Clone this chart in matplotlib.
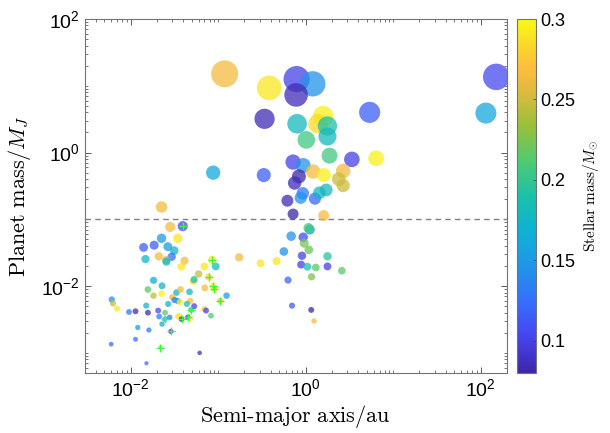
import numpy as np
import matplotlib
matplotlib.use('Agg')
import matplotlib.pyplot as plt
from matplotlib.colors import LinearSegmentedColormap
from matplotlib.ticker import LogLocator, NullFormatter

# semi-major axis (au), planet mass (M_J), stellar mass (M_sun)
semi_major = [0.119, 0.384, 0.79, 1.21, 0.78, 151, 115, 5.4, 0.34, 0.80,
              1.59, 1.39, 1.78, 1.78, 1.02, 1.88, 3.38, 6.4, 0.72, 0.94,
              1.22, 1.62, 2.69, 2.4, 2.69, 0.84, 0.75, 0.93, 0.88, 1.28,
              1.44, 1.72, 0.62, 0.72, 1.61, 0.088, 0.333, 0.0226,
              1.12, 1.08, 0.685, 0.94, 0.965, 1.09, 0.565, 0.91, 1.78, 0.89,
              1.05, 1.31, 1.78, 2.6, 1.17, 0.63, 0.70, 1.16, 1.25, 0.174,
              0.306, 0.467,
              0.0284, 0.0395, 0.0226, 0.0347, 0.0141, 0.0186, 0.0267, 0.0315,
              0.0148, 0.0210, 0.0295, 0.0255, 0.0257, 0.0414, 0.038, 0.0857,
              0.070, 0.094, 0.060, 0.0785, 0.052, 0.0533, 0.088, 0.090,
              0.0706, 0.106, 0.125, 0.0183, 0.0229, 0.0158, 0.0226, 0.0183,
              0.0335, 0.0372, 0.0472, 0.030, 0.0318, 0.0345, 0.0366, 0.0269,
              0.048, 0.0440, 0.0533, 0.0061, 0.0063, 0.0070, 0.0096, 0.0114,
              0.0151, 0.0158, 0.0207, 0.0212, 0.0248, 0.0247, 0.028, 0.0229,
              0.0347, 0.0365, 0.0383, 0.0452, 0.0480, 0.0493, 0.0705, 0.073,
              0.083, 0.0121, 0.0162, 0.0289, 0.0060, 0.0114, 0.0219, 0.0616,
              0.0152]
planet_mass = [15.1, 9.3, 12.6, 10.7, 7.3, 13.6, 3.9, 4.0, 3.2, 2.7,
               3.5, 2.7, 2.5, 1.74, 1.55, 0.90, 0.79, 0.82, 0.72, 0.64,
               0.52, 0.46, 0.53, 0.40, 0.32, 0.44, 0.35, 0.245, 0.21, 0.204,
               0.25, 0.275, 0.19, 0.12, 0.114, 0.50, 0.46, 0.153,
               0.070, 0.074, 0.056, 0.054, 0.044, 0.035, 0.033, 0.0285, 0.028, 0.021,
               0.0195, 0.019, 0.0197, 0.017, 0.0138, 0.0123, 0.0051, 0.0044, 0.0030, 0.027,
               0.022, 0.0237,
               0.077, 0.079, 0.052, 0.052, 0.038, 0.041, 0.039, 0.034,
               0.0254, 0.0279, 0.0275, 0.0245, 0.0232, 0.024, 0.0195, 0.0248,
               0.0197, 0.0197, 0.0152, 0.0137, 0.0118, 0.0125, 0.010, 0.0089,
               0.0094, 0.0060, 0.0072, 0.0122, 0.0101, 0.0089, 0.0077, 0.0072,
               0.0080, 0.0089, 0.0082, 0.0068, 0.0062, 0.0060, 0.0058, 0.0054,
               0.0060, 0.0054, 0.0050, 0.0063, 0.0055, 0.0046, 0.0041, 0.0042,
               0.0051, 0.0040, 0.0043, 0.0035, 0.0040, 0.0032, 0.0034, 0.0027,
               0.0035, 0.0036, 0.0032, 0.0034, 0.0032, 0.0044, 0.0045, 0.0043,
               0.0036, 0.0024, 0.0022, 0.0021, 0.00135, 0.0016, 0.0012, 0.0010,
               0.0007]
stellar_mass = [0.265, 0.29, 0.10, 0.145, 0.085, 0.105, 0.16, 0.115, 0.085, 0.18,
                0.295, 0.285, 0.19, 0.18, 0.205, 0.205, 0.10, 0.295, 0.10, 0.145,
                0.265, 0.295, 0.265, 0.25, 0.25, 0.08, 0.085, 0.13, 0.145, 0.12,
                0.175, 0.18, 0.085, 0.08, 0.265, 0.16, 0.115, 0.265,
                0.15, 0.205, 0.145, 0.105, 0.225, 0.22, 0.145, 0.10, 0.195, 0.10,
                0.19, 0.215, 0.10, 0.215, 0.225, 0.12, 0.115, 0.08, 0.265, 0.265,
                0.29, 0.29,
                0.265, 0.105, 0.15, 0.29, 0.115, 0.115, 0.15, 0.175,
                0.175, 0.265, 0.125, 0.25, 0.175, 0.265, 0.29, 0.29,
                0.29, 0.185, 0.25, 0.285, 0.29, 0.19, 0.295, 0.29,
                0.265, 0.265, 0.15, 0.165, 0.175, 0.215, 0.295, 0.245,
                0.175, 0.265, 0.175, 0.265, 0.13, 0.15, 0.29, 0.175,
                0.265, 0.19, 0.10, 0.145, 0.25, 0.29, 0.13, 0.085,
                0.175, 0.085, 0.105, 0.13, 0.215, 0.165, 0.13, 0.17,
                0.29, 0.29, 0.085, 0.09, 0.29, 0.195, 0.265, 0.105,
                0.21, 0.15, 0.13, 0.085, 0.125, 0.125, 0.265, 0.085,
                0.125]

# planets marked with a green cross
cross_a = [0.0395, 0.0857, 0.0785, 0.088, 0.090, 0.106, 0.0247, 0.0383,
           0.0452, 0.0493, 0.0289, 0.0219]
cross_m = [0.079, 0.0248, 0.0137, 0.010, 0.0089, 0.0060, 0.0032, 0.0032,
           0.0034, 0.0044, 0.0021, 0.0012]

cbar_ticks = [0.1, 0.15, 0.2, 0.25, 0.3]

# parula-like colormap
parula = LinearSegmentedColormap.from_list('parula', [
    (0.00, (0.2422, 0.1504, 0.6603)),
    (0.10, (0.2780, 0.2650, 0.9320)),
    (0.20, (0.2060, 0.4370, 0.9920)),
    (0.30, (0.1270, 0.5870, 0.9120)),
    (0.40, (0.0560, 0.6950, 0.8300)),
    (0.50, (0.1050, 0.7540, 0.6660)),
    (0.60, (0.3100, 0.7950, 0.4400)),
    (0.70, (0.6000, 0.7500, 0.2300)),
    (0.80, (0.8800, 0.7300, 0.2400)),
    (0.86, (0.9900, 0.7400, 0.2400)),
    (0.92, (0.9800, 0.8300, 0.1700)),
    (1.00, (0.9769, 0.9839, 0.0805)),
])

plt.rcParams['font.family'] = ['Liberation Sans', 'DejaVu Sans']
plt.rcParams['mathtext.fontset'] = 'custom'
plt.rcParams['mathtext.rm'] = 'Liberation Sans'
plt.rcParams['mathtext.it'] = 'Liberation Sans:italic'
plt.rcParams['mathtext.bf'] = 'Liberation Sans:bold'

dpi = 100
fig = plt.figure(figsize=(6.1, 4.33), dpi=dpi)
ax = fig.add_axes([0.139, 0.1386, 0.692, 0.8175])
cax = fig.add_axes([0.8475, 0.1386, 0.031, 0.8175])

m = np.array(planet_mass)
diam_px = 16.3 * m ** 0.186
sizes = (diam_px * 72 / dpi) ** 2

sc = ax.scatter(semi_major, planet_mass, s=sizes, c=stellar_mass, cmap=parula,
                vmin=0.08, vmax=0.3, alpha=0.75, linewidths=0, zorder=3)
ax.plot(cross_a, cross_m, '+', color=(0.2, 1.0, 0.2), ms=5.5, mew=0.9, zorder=4)
ax.axhline(0.1, color='0.5', lw=1, ls=(0, (4, 3)), zorder=2)

ax.set_xscale('log')
ax.set_yscale('log')
ax.set_xlim(0.003, 200)
ax.set_ylim(5e-4, 100)
for axis in (ax.xaxis, ax.yaxis):
    axis.set_major_locator(LogLocator(base=100))
    axis.set_minor_locator(LogLocator(base=10, subs=np.arange(1, 10), numticks=20))
    axis.set_minor_formatter(NullFormatter())
ax.tick_params(which='both', direction='in', top=True, right=True,
               colors='0.25', labelcolor='black', labelsize=14)
ax.tick_params(which='major', length=4, width=0.6)
ax.tick_params(which='minor', length=2, width=0.5)
for sp in ax.spines.values():
    sp.set_color('0.45')
    sp.set_linewidth(0.8)

ax.set_xlabel(r'$\mathrm{Semi\text{-}major\ axis/au}$', fontsize=16,
              math_fontfamily='cm', labelpad=2)
ax.set_ylabel(r'$\mathrm{Planet\ mass}/M_J$', fontsize=16,
              math_fontfamily='cm', labelpad=6)

cb = fig.colorbar(sc, cax=cax)
cb.solids.set_alpha(1)
cb.set_ticks(cbar_ticks)
cb.set_ticklabels(['0.1', '0.15', '0.2', '0.25', '0.3'])
cb.ax.tick_params(direction='in', length=2, width=0.5, labelsize=13,
                  colors='0.25', labelcolor='black')
cb.outline.set_edgecolor('0.45')
cb.outline.set_linewidth(0.8)
cb.set_label(r'$\mathrm{Stellar\ mass}/M_{\odot}$', fontsize=11,
             math_fontfamily='cm', labelpad=4)

fig.savefig('out.png', dpi=dpi)
